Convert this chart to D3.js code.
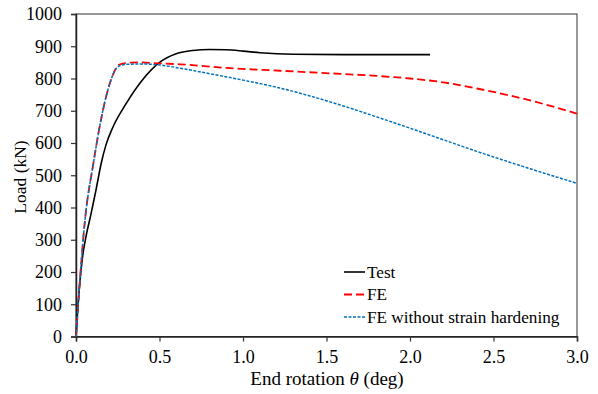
<!DOCTYPE html>
<html>
<head>
<meta charset="utf-8">
<script src="https://cdn.jsdelivr.net/npm/d3@7"></script>
<style>
  body { margin: 0; background: #fff; }
  svg { display: block; }
  svg text { font-family: "Liberation Serif", "Times New Roman", Times, "DejaVu Serif", serif; }
</style>
</head>
<body>
<svg id="chart" width="598" height="394"></svg>
<script>
// rotation (deg) and load (kN)
const testRot  = [0, 0.02, 0.04, 0.06, 0.09, 0.12, 0.15, 0.18, 0.22, 0.3, 0.4, 0.5, 0.6, 0.7, 0.8, 0.9, 1.0, 1.1, 1.3, 1.6, 2.12]
const testLoad = [0, 150, 250, 310, 380, 455, 535, 595, 648, 722, 797, 850, 877, 887, 890, 889, 885, 880, 875, 874, 874]

const feRot  = [0, 0.054, 0.104, 0.164, 0.22, 0.254, 0.3, 0.364, 0.5, 0.624, 0.924, 1.224, 1.524, 1.8, 2.0, 2.2, 2.4, 2.6, 2.8, 3.0]
const feLoad = [0, 362, 537, 708, 810, 842, 848, 850, 847, 844, 832, 824, 816, 808, 800, 788, 769, 747, 721, 691]

const feNoRot  = [0, 0.054, 0.104, 0.164, 0.22, 0.254, 0.3, 0.4, 0.5, 0.624, 0.8, 1.0, 1.2, 1.4, 1.6, 1.8, 2.0, 2.2, 2.4, 2.6, 2.8, 3.0]
const feNoLoad = [0, 362, 537, 708, 810, 838, 844, 845, 842, 832, 815, 795, 773, 746, 715, 681, 646, 610, 574, 540, 507, 475]

const xTicks = [0, 0.5, 1.0, 1.5, 2.0, 2.5, 3.0]
const yTicks = d3.range(0, 1001, 100)

const series = [
    {name: "Test", x: testRot, y: testLoad, color: "#000000", width: 1.6, dash: null},
    {name: "FE", x: feRot, y: feLoad, color: "#ff0000", width: 1.8, dash: "8,4"},
    {name: "FE without strain hardening", x: feNoRot, y: feNoLoad, color: "#0070c0", width: 1.5, dash: "3,1.5"}
]

const svg = d3.select("#chart")
const plot = {left: 76, right: 577, top: 14, bottom: 336.5}

const xScale = d3.scaleLinear().domain([0, 3]).range([plot.left, plot.right])
const yScale = d3.scaleLinear().domain([0, 1000]).range([plot.bottom, plot.top])

// frame
svg.append("rect")
    .attr("x", plot.left).attr("y", plot.top)
    .attr("width", plot.right - plot.left).attr("height", plot.bottom - plot.top)
    .attr("fill", "none").attr("stroke", "#333").attr("stroke-width", 1)

const xAxis = svg.append("g")
    .attr("transform", `translate(0, ${plot.bottom})`)
    .call(d3.axisBottom(xScale).tickValues(xTicks).tickFormat(d3.format(".1f")).tickSize(5).tickPadding(9))
const yAxis = svg.append("g")
    .attr("transform", `translate(${plot.left}, 0)`)
    .call(d3.axisLeft(yScale).tickValues(yTicks).tickFormat(d3.format("d")).tickSize(5).tickPadding(9))

for (const ax of [xAxis, yAxis]) {
    ax.attr("font-family", null).attr("font-size", 18)
    ax.select(".domain").attr("stroke", "#222").attr("stroke-width", 1.5)
    ax.selectAll(".tick line").attr("stroke", "#333").attr("stroke-width", 1.2)
    ax.selectAll("text").attr("fill", "#000")
}

const line = d3.line().curve(d3.curveMonotoneX)
    .x(d => xScale(d[0]))
    .y(d => yScale(d[1]))

series.forEach(s => {
    svg.append("path")
        .datum(d3.zip(s.x, s.y))
        .attr("fill", "none")
        .attr("stroke", s.color)
        .attr("stroke-width", s.width)
        .attr("stroke-dasharray", s.dash)
        .attr("d", line)
})

// legend
const legend = svg.append("g").attr("transform", "translate(344, 272)")
series.forEach((s, i) => {
    const g = legend.append("g").attr("transform", `translate(0, ${i * 22.5})`)
    g.append("line")
        .attr("x1", 0).attr("x2", 21)
        .attr("stroke", s.color)
        .attr("stroke-width", s.width)
        .attr("stroke-dasharray", s.dash)
    g.append("text")
        .attr("x", 23).attr("y", 5.5)
        .attr("font-size", 17.2)
        .text(s.name)
})

// axis titles
svg.append("text")
    .attr("transform", "rotate(-90)")
    .attr("x", -177).attr("y", 26)
    .attr("text-anchor", "middle")
    .attr("font-size", 17.5)
    .text("Load (kN)")

const xt = svg.append("text")
    .attr("x", 327).attr("y", 385)
    .attr("text-anchor", "middle")
    .attr("font-size", 19)
xt.append("tspan").text("End rotation ")
xt.append("tspan").attr("font-style", "italic").text("θ")
xt.append("tspan").text(" (deg)")
</script>
</body>
</html>
